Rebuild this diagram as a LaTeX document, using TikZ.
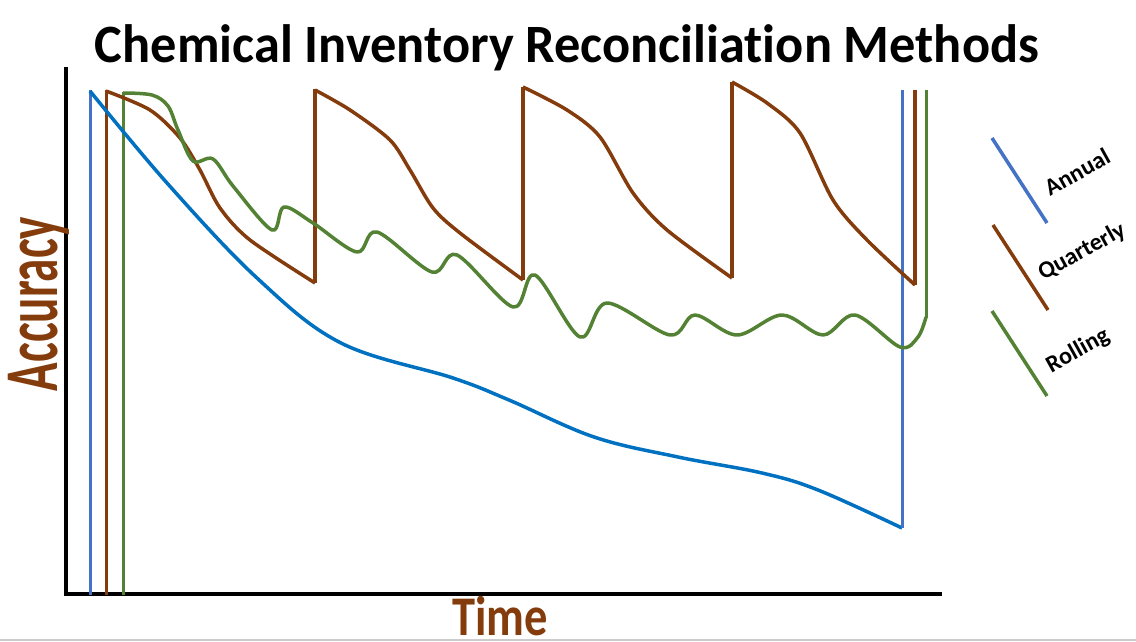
\documentclass[tikz,border=0pt]{standalone}
\usepackage{fontspec}
\setmainfont{Carlito}[Ligatures={NoCommon}]
\definecolor{annblue}{HTML}{4472C4}
\definecolor{curveblue}{HTML}{0070C0}
\definecolor{qbrown}{HTML}{843C0C}
\definecolor{rgreen}{HTML}{548235}
\begin{document}
\begin{tikzpicture}[x=1pt,y=-1pt,
  axis/.style={line width=4.5pt,black},
  vline/.style={line width=3pt},
  curve/.style={line width=3.5pt,line join=round},
  legline/.style={line width=3.5pt},
  leglabel/.style={font=\fontsize{24}{28}\selectfont\bfseries,rotate=29,inner sep=0pt},
  axlabel/.style={font=\bfseries,text=qbrown,inner sep=0pt}]
\useasboundingbox (0,0) rectangle (1136,642);
% bottom gray line
\draw[line width=2pt,black!20] (0,640) -- (1136,640);
% title
\node[font=\fontsize{54}{60}\selectfont\bfseries,anchor=base,inner sep=0pt,xscale=0.97] (title) at (567,63) {Chemical Inventory Reconciliation Methods};
% axes
\coordinate (ytop) at (66,67);
\coordinate (origin) at (66,594);
\coordinate (xend) at (942,594);
\draw[axis] (ytop) -- (origin) -- (xend);
% axis labels
\node[axlabel,font=\fontsize{76}{80}\selectfont\bfseries,rotate=90,xscale=0.62,anchor=base] (acc) at (57,304) {Accuracy};
\node[axlabel,font=\fontsize{56}{60}\selectfont\bfseries,xscale=0.83,anchor=base] (time) at (500,635) {Time};
% start vertical lines
\draw[vline,annblue] (90,595) -- (90,90);
\draw[vline,qbrown] (106,595) -- (106,90);
\draw[vline,rgreen] (123,595) -- (123,92);
% annual curve
\draw[curve,curveblue] plot[smooth,tension=0.6] coordinates {(90,91) (167,183) (257,278) (341,343) (453,378) (509,400) (594,437) (678,457) (762,473) (818,490) (902,528)};
\draw[vline,annblue] (902,528) -- (902,90);
% quarterly curve
\draw[curve,qbrown] plot[smooth,tension=0.5] coordinates {(106,91) (150,110) (180,138) (200,170) (220,208) (250,240) (315,283)};
\draw[curve,qbrown] (315,283) -- (315,89);
\draw[curve,qbrown] plot[smooth,tension=0.5] coordinates {(315,90) (350,110) (390,140) (410,170) (433,208) (460,233) (523,280)};
\draw[curve,qbrown] (523,280) -- (523,87);
\draw[curve,qbrown] plot[smooth,tension=0.5] coordinates {(523,87) (567,110) (600,137) (633,193) (667,230) (732,278)};
\draw[curve,qbrown] (732,278) -- (732,82);
\draw[curve,qbrown] plot[smooth,tension=0.5] coordinates {(732,82) (767,103) (800,133) (833,200) (867,240) (915,285)};
\draw[vline,qbrown,line width=3.5pt] (915,285) -- (915,90);
% rolling curve
\draw[curve,rgreen] plot[smooth,tension=0.55] coordinates {(123,93) (152,95) (168,106) (178,130) (193,161) (213,159) (233,186) (272,230) (284,207) (313,223) (357,252) (377,232) (432,272) (457,255) (513,307) (535,275) (580,337) (607,303) (670,335) (695,315) (737,335) (782,315) (823,335) (855,315) (900,347) (918,337) (926,317)};
\draw[vline,rgreen] (926,318) -- (926,90);
% legend
\draw[legline,annblue] (992,138) -- (1047,223);
\draw[legline,qbrown] (993,225) -- (1048,310);
\draw[legline,rgreen] (992,311) -- (1047,396);
\node[leglabel] (lann) at (1077,172) {Annual};
\node[leglabel] (lqua) at (1082,252) {Quarterly};
\node[leglabel] (lrol) at (1078,351) {Rolling};
\end{tikzpicture}
\end{document}
